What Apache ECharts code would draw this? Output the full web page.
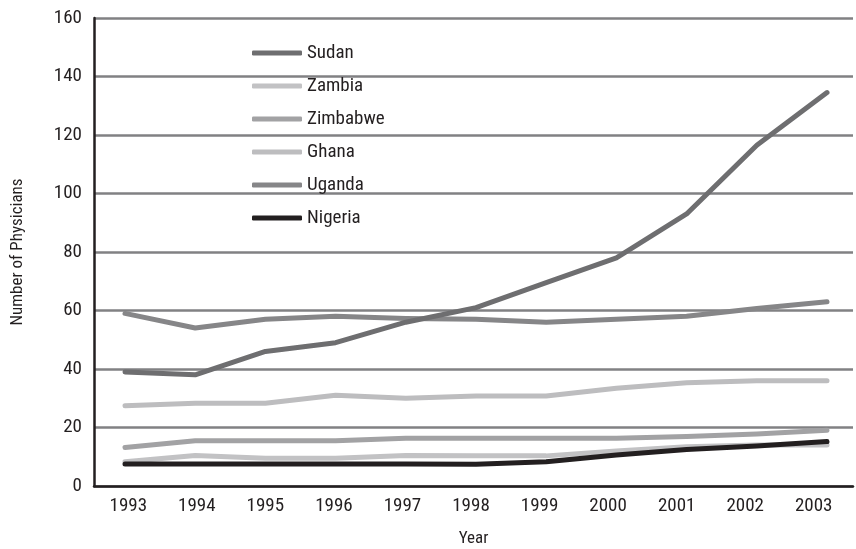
<!DOCTYPE html>
<html><head><meta charset="utf-8">
<script src="https://cdn.jsdelivr.net/npm/echarts@6/dist/echarts.min.js"></script>
<style>html,body{margin:0;padding:0;background:#fff}#c{width:856px;height:549px}</style>
</head><body><div id="c"></div>
<script>
const years = ['1993','1994','1995','1996','1997','1998','1999','2000','2001','2002','2003'];
const yTicks = [0, 20, 40, 60, 80, 100, 120, 140, 160];
const sudan    = [39, 38, 46, 49, 56, 61, 69.5, 78, 93, 116.5, 134.5];
const zambia   = [8.3, 10.4, 9.5, 9.5, 10.4, 10.3, 10.3, 12, 13.4, 14, 14];
const zimbabwe = [13.2, 15.5, 15.5, 15.5, 16.3, 16.3, 16.3, 16.3, 16.9, 17.8, 19.1];
const ghana    = [27.4, 28.3, 28.3, 31, 30, 30.8, 30.8, 33.4, 35.3, 36, 36];
const uganda   = [59, 54, 57, 58, 57.3, 57, 56, 57, 58, 60.7, 63];
const nigeria  = [7.5, 7.5, 7.5, 7.5, 7.5, 7.4, 8.3, 10.6, 12.5, 13.7, 15.2];

const FONT = "'Roboto Condensed', 'DejaVu Sans Condensed', sans-serif";
const TXT = '#231f20';
const seriesDefs = [
  {name:'Sudan', data:sudan, color:'#6e6e70'},
  {name:'Zambia', data:zambia, color:'#c2c2c4'},
  {name:'Zimbabwe', data:zimbabwe, color:'#a2a2a4'},
  {name:'Ghana', data:ghana, color:'#bdbdbf'},
  {name:'Uganda', data:uganda, color:'#868688'},
  {name:'Nigeria', data:nigeria, color:'#231f20'}
];
const drawOrder = ['Uganda','Ghana','Zimbabwe','Zambia','Nigeria','Sudan'];

const chart = echarts.init(document.getElementById('c'), null, {renderer:'canvas'});
const gridBase = {top:18, bottom:63, containLabel:false, outerBoundsMode:'none'};
chart.setOption({
  backgroundColor:'#fff',
  animation:false,
  grid: [
    Object.assign({left:94, right:3}, gridBase),
    Object.assign({left:125, right:29}, gridBase),
    Object.assign({left:94, right:8}, gridBase)
  ],
  legend: {
    orient:'vertical', left:252, top:43, padding:0,
    itemWidth:50, itemHeight:5, itemGap:13, icon:'roundRect',
    textStyle:{fontFamily:FONT, fontSize:19, color:TXT, lineHeight:20, padding:[0,0,0,0]},
    data: seriesDefs.map(s=>({name:s.name, itemStyle:{color:s.color}}))
  },
  xAxis: [
    {type:'category', gridIndex:0, data:years, boundaryGap:true,
     axisLine:{show:true, lineStyle:{color:TXT, width:2.5}},
     axisTick:{show:false}, axisLabel:{show:false}, splitLine:{show:false},
     name:'Year', nameLocation:'middle', nameGap:44,
     nameTextStyle:{fontFamily:FONT, fontSize:17, color:TXT}},
    {type:'category', gridIndex:1, data:years, boundaryGap:false, show:false},
    {type:'category', gridIndex:2, data:years, boundaryGap:true,
     axisLine:{show:false}, axisTick:{show:false}, splitLine:{show:false},
     axisLabel:{show:true, fontFamily:FONT, fontSize:19, color:TXT, margin:11}}
  ],
  yAxis: [
    {type:'value', gridIndex:0, min:yTicks[0], max:yTicks[yTicks.length-1], interval:20,
     axisLine:{show:true, lineStyle:{color:TXT, width:2.5}},
     axisTick:{show:false},
     axisLabel:{fontFamily:FONT, fontSize:19, color:TXT, margin:12},
     splitLine:{show:true, lineStyle:{color:'#818183', width:2.5}},
     name:'Number of Physicians', nameLocation:'middle', nameGap:68, nameRotate:90,
     nameTextStyle:{fontFamily:FONT, fontSize:17, color:TXT}},
    {type:'value', gridIndex:1, min:0, max:160, show:false, splitLine:{show:false}},
    {type:'value', gridIndex:2, min:0, max:160, show:false, splitLine:{show:false}}
  ],
  series: drawOrder.map((n,i)=>{
    const s = seriesDefs.find(d=>d.name===n);
    return {name:s.name, type:'line', xAxisIndex:1, yAxisIndex:1, data:s.data,
      showSymbol:false, symbol:'none', z:3+i,
      lineStyle:{color:s.color, width:5, cap:'round', join:'round'},
      itemStyle:{color:s.color}};
  })
});
</script></body></html>
